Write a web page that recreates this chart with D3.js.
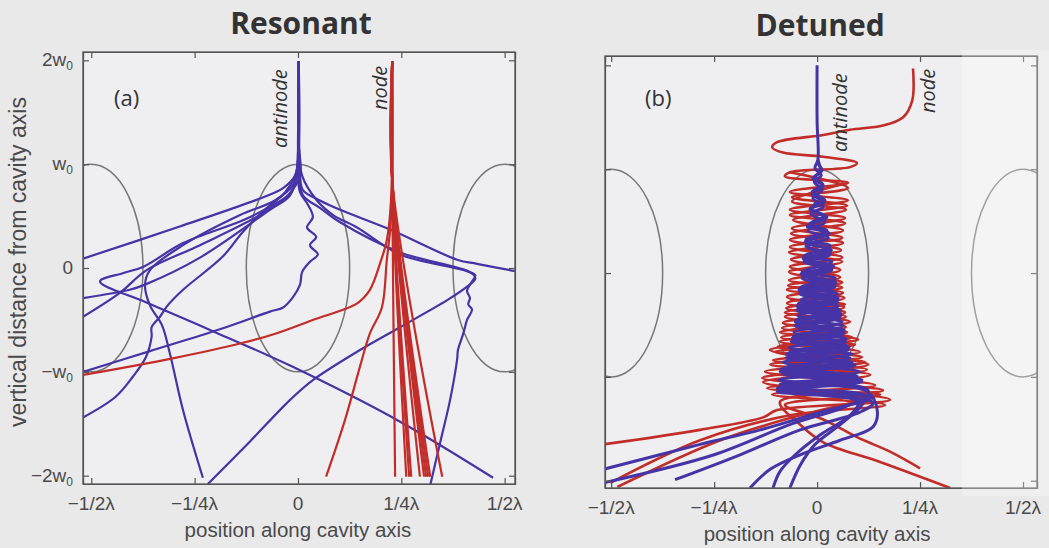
<!DOCTYPE html>
<html>
<head>
<meta charset="utf-8">
<script src="https://cdn.jsdelivr.net/npm/d3@7"></script>
<style>
  body { margin: 0; background: #e9e9ea; }
  svg { display: block; }
  text { fill: #4a4a4a; }
</style>
</head>
<body>
<svg width="1049" height="548"></svg>
<script>
// ---- data ----
var panelTitles = ["Resonant", "Detuned"];
var panelTags = ["(a)", "(b)"];
var xTickValues = [-0.5, -0.25, 0, 0.25, 0.5];
var xTickLabels = ["\u22121/2\u03bb", "\u22121/4\u03bb", "0", "1/4\u03bb", "1/2\u03bb"];
var yTickValues = [2, 1, 0, -1, -2];
// [prefix, letter, subscript]
var yTickLabels = [["2", "w", "0"], ["", "w", "0"], ["0", "", ""], ["\u2212", "w", "0"], ["\u22122", "w", "0"]];
var xAxisTitle = "position along cavity axis";
var yAxisTitle = "vertical distance from cavity axis";

// cavity mode outlines (x in lambda, y in w0)
var ellipseCenters = [-0.5, 0, 0.5];
var ellipseHalfWidth = 0.125;
var ellipseHalfHeight = 1;

// (a) resonant: trajectories as [x (lambda), y (w0)]
var resonantBlue = [
  [[-0.520,0.09],[-0.286,0.40],[-0.092,0.67],[-0.036,0.77],[-0.007,0.89],[0.000,1.13],[0.002,1.99]],
  [[-0.520,-0.29],[-0.407,-0.21],[-0.370,-0.16],[-0.237,0.10],[-0.068,0.56],[-0.019,0.70],[0.000,0.94],[0.003,1.23],[0.002,1.99]],
  [[-0.520,-0.47],[-0.431,-0.24],[-0.366,-0.02],[-0.237,0.22],[-0.092,0.51],[-0.024,0.70],[0.005,0.89],[0.001,1.23],[0.002,1.99]],
  [[0.002,1.99],[0.000,1.20],[0.000,0.94],[-0.019,0.72],[-0.068,0.59],[-0.133,0.46],[-0.278,0.24],[-0.375,0.01],[-0.424,-0.05],[-0.479,-0.13],[-0.368,-0.33],[-0.199,-0.62],[-0.019,-0.94],[0.247,-1.48],[0.472,-2.02]],
  [[-0.520,-1.00],[-0.358,-0.80],[-0.189,-0.59],[-0.068,-0.42],[-0.036,-0.38],[-0.012,-0.28],[0.005,-0.16],[0.010,-0.04],[0.029,0.06],[0.048,0.13],[0.029,0.22],[0.044,0.30],[0.022,0.39],[0.036,0.49],[0.024,0.61],[0.005,0.73],[0.000,0.94],[0.002,1.23],[0.002,1.99]],
  [[-0.520,-1.44],[-0.441,-1.24],[-0.400,-1.05],[-0.368,-0.86],[-0.354,-0.66],[-0.354,-0.57],[-0.334,-0.47],[-0.315,-0.36],[-0.278,-0.21],[-0.182,0.11],[-0.133,0.35],[-0.080,0.56],[-0.031,0.73],[-0.002,0.94],[0.002,1.23],[0.002,1.99]],
  [[-0.230,-2.02],[-0.278,-1.37],[-0.310,-0.82],[-0.329,-0.55],[-0.358,-0.36],[-0.370,-0.16],[-0.358,-0.02],[-0.278,0.22],[-0.140,0.51],[-0.056,0.65],[-0.012,0.80],[0.000,1.04],[0.002,1.23],[0.002,1.99]],
  [[-0.218,-2.08],[-0.116,-1.67],[-0.019,-1.27],[0.036,-1.08],[0.150,-0.79],[0.247,-0.57],[0.361,-0.31],[0.409,-0.18],[0.429,-0.10],[0.416,-0.04],[0.247,0.15],[0.102,0.44],[0.053,0.58],[0.012,0.70],[0.002,0.94],[0.002,1.23],[0.002,1.99]],
  [[0.002,1.99],[0.002,1.23],[0.005,0.89],[0.012,0.75],[0.053,0.65],[0.102,0.56],[0.223,0.37],[0.385,0.08],[0.433,0.04],[0.525,-0.03]],
  [[0.002,1.99],[0.002,1.23],[0.010,0.89],[0.046,0.65],[0.085,0.51],[0.143,0.39],[0.247,0.13],[0.400,-0.02],[0.429,-0.07],[0.421,-0.13],[0.409,-0.22],[0.416,-0.29],[0.412,-0.35],[0.421,-0.40],[0.409,-0.50],[0.400,-0.63],[0.387,-0.79],[0.385,-0.88],[0.368,-1.27],[0.344,-1.68],[0.320,-2.09]]
];
var resonantRed = [
  [[-0.520,-1.03],[-0.303,-0.87],[-0.133,-0.72],[-0.053,-0.63],[0.036,-0.50],[0.143,-0.34],[0.174,-0.21],[0.199,0.05],[0.215,0.27],[0.225,0.65],[0.228,1.99]],
  [[0.068,-2.01],[0.114,-1.46],[0.150,-0.95],[0.174,-0.63],[0.203,-0.38],[0.215,0.08],[0.223,0.37],[0.228,0.75],[0.228,1.99]]
];
// node atoms that leave straight down: start on the node line, end x at the bottom
var resonantRedFanEnds = [0.235, 0.262, 0.269, 0.274, 0.295, 0.305, 0.310, 0.315, 0.320, 0.349];

// (b) detuned
var detunedRed = [
  [[0.233,1.97],[0.231,1.66],[0.209,1.50],[0.160,1.42],[0.080,1.38],[0.015,1.33],[-0.097,1.26],[-0.109,1.21],[-0.083,1.16],[0.015,1.12],[0.097,1.06],[0.080,1.02],[-0.066,0.97],[-0.078,0.93],[0.075,0.87],[-0.066,0.78],[0.075,0.70],[-0.066,0.61],[0.068,0.53],[-0.061,0.43],[0.061,0.34],[-0.066,0.25],[0.061,0.15],[-0.066,0.06],[0.056,-0.04],[-0.070,-0.12],[0.063,-0.19],[-0.073,-0.29],[0.068,-0.38],[-0.083,-0.48],[0.073,-0.57],[-0.090,-0.66],[0.104,-0.76],[-0.107,-0.84],[0.121,-0.93],[-0.131,-1.05],[0.177,-1.22],[-0.097,-1.32],[-0.131,-1.39],[-0.284,-1.51],[-0.519,-1.65]],
  [[-0.066,0.97],[0.075,0.82],[-0.061,0.73],[0.073,0.65],[-0.066,0.56],[0.068,0.48],[-0.063,0.38],[0.063,0.29],[-0.068,0.20],[0.061,0.11],[-0.068,0.01],[0.061,-0.09],[-0.073,-0.16],[0.066,-0.24],[-0.075,-0.34],[0.070,-0.42],[-0.085,-0.53],[0.085,-0.62],[-0.095,-0.71],[0.109,-0.81],[-0.114,-0.88],[0.129,-0.98],[-0.121,-1.11],[0.153,-1.17],[-0.078,-1.27],[0.015,-1.41],[0.097,-1.58],[0.177,-1.72],[0.250,-1.88]],
  [[0.075,0.87],[-0.061,0.69],[0.070,0.61],[-0.058,0.51],[0.063,0.41],[-0.066,0.32],[0.058,0.22],[-0.063,0.13],[0.056,0.03],[-0.068,-0.07],[0.061,-0.14],[-0.073,-0.23],[0.066,-0.33],[-0.078,-0.42],[0.070,-0.52],[-0.087,-0.62],[0.092,-0.69],[-0.102,-0.76],[0.117,-0.86],[-0.126,-0.95],[0.141,-1.08],[-0.109,-1.17],[0.165,-1.27],[-0.066,-1.37],[-0.284,-1.61],[-0.502,-2.02]],
  [[-0.066,-0.26],[0.068,-0.30],[-0.078,-0.38],[0.080,-0.47],[-0.090,-0.57],[0.100,-0.64],[-0.114,-0.74],[0.124,-0.88],[-0.133,-1.01],[0.160,-1.13],[-0.090,-1.24],[-0.041,-1.46],[0.015,-1.63],[0.153,-1.82],[0.323,-2.07]],
  [[0.141,-1.20],[-0.041,-1.37],[-0.235,-1.61],[-0.485,-2.06]]
];
var detunedBlue = [
  [[0.000,2.00],[0.000,1.47],[0.002,1.09],[-0.005,1.01],[0.010,0.94],[-0.007,0.88],[0.012,0.80],[-0.010,0.72],[0.015,0.64],[-0.015,0.57],[0.019,0.49],[-0.022,0.41],[0.027,0.34],[-0.027,0.26],[0.032,0.18],[-0.032,0.11],[0.036,0.03],[-0.036,-0.05],[0.044,-0.13],[-0.041,-0.20],[0.049,-0.28],[-0.046,-0.36],[0.056,-0.43],[-0.051,-0.51],[0.063,-0.59],[-0.058,-0.66],[0.075,-0.74],[-0.070,-0.82],[0.092,-0.89],[-0.085,-0.97],[0.109,-1.05],[-0.095,-1.13],[0.129,-1.20],[0.007,-1.34],[-0.138,-1.51],[-0.284,-1.65],[-0.519,-1.89]],
  [[0.002,1.09],[0.007,0.97],[-0.010,0.91],[0.015,0.84],[-0.012,0.76],[0.017,0.68],[-0.017,0.61],[0.022,0.53],[-0.024,0.45],[0.029,0.38],[-0.029,0.30],[0.034,0.22],[-0.034,0.14],[0.039,0.07],[-0.039,-0.01],[0.046,-0.09],[-0.044,-0.16],[0.051,-0.24],[-0.049,-0.32],[0.058,-0.39],[-0.053,-0.47],[0.066,-0.55],[-0.061,-0.63],[0.073,-0.70],[-0.075,-0.78],[0.085,-0.86],[-0.090,-0.93],[0.100,-1.01],[-0.097,-1.11],[0.136,-1.25],[0.104,-1.34],[-0.041,-1.51],[-0.187,-1.75],[-0.345,-1.99]],
  [[0.002,0.70],[-0.012,0.61],[0.017,0.55],[-0.019,0.47],[0.024,0.41],[-0.027,0.32],[0.032,0.26],[-0.032,0.16],[0.036,0.11],[-0.036,0.01],[0.044,-0.05],[-0.041,-0.14],[0.049,-0.20],[-0.046,-0.30],[0.056,-0.36],[-0.051,-0.45],[0.063,-0.51],[-0.058,-0.61],[0.070,-0.66],[-0.066,-0.76],[0.080,-0.82],[-0.078,-0.91],[0.097,-0.99],[-0.090,-1.07],[0.121,-1.14],[0.146,-1.32],[0.136,-1.48],[0.056,-1.61],[-0.041,-1.75],[-0.114,-1.89],[-0.163,-2.07]],
  [[0.002,0.32],[-0.022,0.24],[0.032,0.20],[-0.029,0.11],[0.034,0.05],[-0.034,-0.05],[0.041,-0.11],[-0.041,-0.20],[0.051,-0.26],[-0.049,-0.36],[0.058,-0.41],[-0.053,-0.51],[0.066,-0.57],[-0.063,-0.66],[0.078,-0.72],[-0.075,-0.82],[0.092,-0.88],[-0.090,-0.95],[0.109,-1.03],[-0.097,-1.14],[0.100,-1.24],[0.080,-1.37],[0.007,-1.56],[-0.053,-1.75],[-0.090,-1.91],[-0.107,-2.07]],
  [[0.002,-0.07],[-0.027,-0.13],[0.041,-0.18],[-0.039,-0.26],[0.051,-0.32],[-0.046,-0.41],[0.061,-0.47],[-0.056,-0.57],[0.070,-0.63],[-0.068,-0.72],[0.085,-0.78],[-0.083,-0.86],[0.104,-0.95],[-0.092,-1.03],[0.124,-1.13],[0.109,-1.27],[0.056,-1.46],[-0.005,-1.65],[-0.041,-1.85],[-0.066,-2.07]],
  [[0.002,1.05],[0.012,0.99],[-0.007,0.92],[0.014,0.85],[-0.012,0.78],[0.019,0.70],[-0.017,0.62],[0.024,0.54],[-0.022,0.46],[0.029,0.38],[-0.027,0.30],[0.034,0.22],[-0.032,0.14],[0.039,0.06],[-0.036,-0.02],[0.044,-0.10],[-0.041,-0.18],[0.049,-0.26],[-0.046,-0.34],[0.053,-0.42],[-0.051,-0.50],[0.061,-0.58],[-0.056,-0.66],[0.070,-0.73],[-0.066,-0.80],[0.085,-0.88],[-0.080,-0.95],[0.100,-1.02],[-0.092,-1.10],[0.117,-1.18],[0.060,-1.30],[-0.060,-1.45],[-0.250,-1.75],[-0.519,-2.02]]
];

// ---- drawing ----
var svg = d3.select("svg");
var BLUE = "#4634a6", RED = "#c22d2a", FRAME = "#555", MODE = "#777";

function drawPanel(p) {
  var x = d3.scaleLinear().domain(p.xDomain).range([p.left, p.right]);
  var y = d3.scaleLinear().domain(p.yDomain).range([p.bottom, p.top]);
  var g = svg.append("g");

  g.append("rect")
    .attr("x", p.left).attr("y", p.top)
    .attr("width", p.right - p.left).attr("height", p.bottom - p.top)
    .attr("fill", "#efeff1");

  g.append("clipPath").attr("id", p.id)
    .append("rect")
    .attr("x", p.left).attr("y", p.top)
    .attr("width", p.right - p.left).attr("height", p.bottom - p.top);

  var plot = g.append("g").attr("clip-path", "url(#" + p.id + ")");

  // cavity mode outlines
  plot.selectAll("ellipse")
    .data(ellipseCenters)
    .enter()
    .append("ellipse")
    .attr("cx", function (d) { return x(d); })
    .attr("cy", y(0))
    .attr("rx", x(ellipseHalfWidth) - x(0))
    .attr("ry", y(0) - y(ellipseHalfHeight))
    .attr("fill", "none")
    .attr("stroke", MODE)
    .attr("stroke-width", 1.5);

  var line = d3.line()
    .x(function (d) { return x(d[0]); })
    .y(function (d) { return y(d[1]); })
    .curve(d3.curveCatmullRom.alpha(0.5));

  p.layers.forEach(function (layer) {
    plot.append("g")
      .selectAll("path")
      .data(layer.tracks)
      .enter()
      .append("path")
      .attr("d", line)
      .attr("fill", "none")
      .attr("stroke", layer.color)
      .attr("stroke-width", layer.width)
      .attr("stroke-linejoin", "round");
  });

  // inward ticks on all four sides
  var axes = [
    [d3.axisBottom(x).tickValues(xTickValues), "translate(0," + p.bottom + ")"],
    [d3.axisTop(x).tickValues(xTickValues), "translate(0," + p.top + ")"],
    [d3.axisLeft(y).tickValues(yTickValues), "translate(" + p.left + ",0)"],
    [d3.axisRight(y).tickValues(yTickValues), "translate(" + p.right + ",0)"]
  ];
  axes.forEach(function (a) {
    var ax = g.append("g").attr("transform", a[1])
      .call(a[0].tickSize(-6).tickFormat(""));
    ax.selectAll("path,line").attr("stroke", FRAME).attr("stroke-width", 1.2);
  });

  g.append("rect")
    .attr("x", p.left).attr("y", p.top)
    .attr("width", p.right - p.left).attr("height", p.bottom - p.top)
    .attr("fill", "none").attr("stroke", FRAME).attr("stroke-width", 1.3);

  // x tick labels
  g.selectAll(".xlab")
    .data(xTickValues)
    .enter()
    .append("text")
    .attr("x", function (d) { return x(d); })
    .attr("y", p.bottom + 26)
    .attr("text-anchor", "middle")
    .style("font", "19px 'Liberation Sans', Arial, sans-serif")
    .text(function (d, i) { return xTickLabels[i]; });

  g.append("text")
    .attr("x", x(0)).attr("y", p.bottom + 53)
    .attr("text-anchor", "middle")
    .style("font", "20.5px 'Liberation Sans', Arial, sans-serif")
    .text(xAxisTitle);

  if (p.yLabels) {
    var yl = g.selectAll(".ylab")
      .data(yTickValues)
      .enter()
      .append("text")
      .attr("x", p.left - 10)
      .attr("y", function (d) { return y(d) + 6; })
      .attr("text-anchor", "end")
      .style("font", "19px 'Liberation Sans', Arial, sans-serif");
    yl.append("tspan").text(function (d, i) { return yTickLabels[i][0] + yTickLabels[i][1]; });
    yl.append("tspan")
      .attr("dy", 4)
      .style("font-size", "12px")
      .text(function (d, i) { return yTickLabels[i][2]; });

    g.append("text")
      .attr("transform", "translate(26," + (y(0) - 6) + ") rotate(-90)")
      .attr("text-anchor", "middle")
      .style("font", "23px 'Liberation Sans', Arial, sans-serif")
      .text(yAxisTitle);
  }

  g.append("text")
    .attr("x", x(0) + 3).attr("y", p.titleY)
    .attr("text-anchor", "middle")
    .style("font", "bold 30px 'Open Sans', sans-serif")
    .style("fill", "#333")
    .text(p.title);

  g.append("text")
    .attr("x", p.tagX).attr("y", 106)
    .style("font", "22px 'Open Sans', sans-serif")
    .style("fill", "#333")
    .text(p.tag);

  p.notes.forEach(function (n) {
    g.append("text")
      .attr("transform", "translate(" + n.x + "," + n.y + ") rotate(-90)")
      .style("font", "italic 20px 'Open Sans', sans-serif")
      .style("fill", "#333")
      .text(n.text);
  });
  return { x: x, y: y };
}

var fanTracks = resonantRedFanEnds.map(function (e) {
  return [[0.228, 1.99], [0.228, 0.85], [e, -2.01]];
});

drawPanel({
  id: "clipA", title: panelTitles[0], tag: panelTags[0], titleY: 34, tagX: 114,
  left: 83, right: 515, top: 52, bottom: 484,
  xDomain: [-0.52, 0.525], yDomain: [-2.08, 2.08], yLabels: true,
  layers: [
    { tracks: resonantBlue, color: BLUE, width: 2.2 },
    { tracks: resonantRed.concat(fanTracks), color: RED, width: 2.2 }
  ],
  notes: [{ text: "antinode", x: 287, y: 148 }, { text: "node", x: 387, y: 110 }]
});

drawPanel({
  id: "clipB", title: panelTitles[1], tag: panelTags[1], titleY: 36, tagX: 645,
  left: 605, right: 1037, top: 56, bottom: 488,
  xDomain: [-0.515, 0.534], yDomain: [-2.07, 2.09], yLabels: false,
  layers: [
    { tracks: detunedRed, color: RED, width: 2.6 },
    { tracks: detunedBlue, color: BLUE, width: 3 }
  ],
  notes: [{ text: "antinode", x: 847, y: 152 }, { text: "node", x: 935, y: 113 }]
});

// lighter strip of the scan on the right
svg.append("rect")
  .attr("x", 962).attr("y", 50).attr("width", 87).attr("height", 446)
  .attr("fill", "#fff").attr("opacity", 0.3);
</script>
</body>
</html>
